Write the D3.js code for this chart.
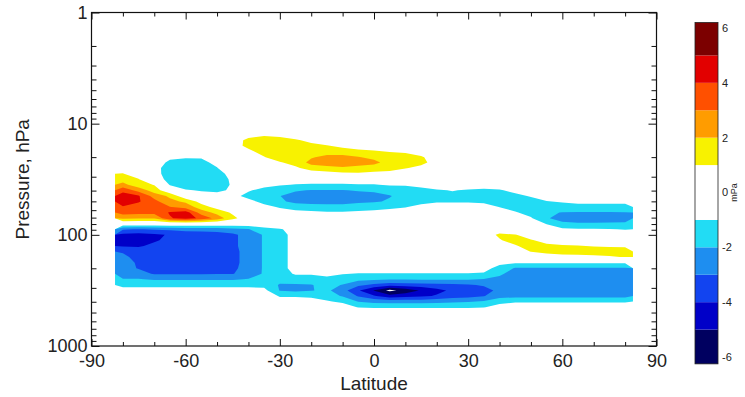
<!DOCTYPE html>
<html>
<head>
<meta charset="utf-8">
<script src="https://cdn.jsdelivr.net/npm/d3@7"></script>
<style>
  body { margin: 0; background: #fff; }
  svg text { font-family: "Liberation Sans", Arial, sans-serif; fill: #222; }
</style>
</head>
<body>
<div id="chart"></div>
<script>

// ---- data: ozone anomaly (mPa) on latitude x pressure grid ----

var latitudes = [-80, -75, -70, -65, -60, -55, -50, -45, -40, -35, -30, -25, -20, -15, -10, -5, 0,
                 5, 10, 15, 20, 25, 30, 35, 40, 45, 50, 55, 60, 65, 70, 75, 80];

var pressureLevels = [10, 11.2, 12.6, 14.1, 15.8, 17.8, 20, 22.4, 25.1, 28.2, 31.6, 35.5, 39.8, 44.7,
                      50.1, 56.2, 63.1, 70.8, 79.4, 89.1, 100, 112, 126, 141, 158, 178, 200, 224,
                      251, 282, 316, 355, 398, 447, 501, 562];

// one row per pressure level, one value per latitude
var anomaly = [
  [0,0,0,0,0,0,0,0,0,0,0, 0,0,0,0,0,0,0,0,0,0,0, 0,0,0,0,0,0,0,0,0,0,0],
  [0,0,0,0,0,0,0,0,0.3,0.4,0.3, 0,0,0,0,0,0,0,0,0,0,0, 0,0,0,0,0,0,0,0,0,0,0],
  [0,0,0,0,0,0,0,0.4,0.7,0.9,0.8, 0.6,0.3,0,0,0,0,0,0,0,0,0, 0,0,0,0,0,0,0,0,0,0,0],
  [0,0,0,0,0,0,0,0.6,1.2,1.4,1.3, 1.1,0.8,0.5,0.3,0,0,0,0,0,0,0, 0,0,0,0,0,0,0,0,0,0,0],
  [0,0,0,0,0,0,0,0.5,1.3,1.6,1.6, 1.5,1.2,1.05,0.8,0.6,0.5,0.4,0.3,0,0,0, 0,0,0,0,0,0,0,0,0,0,0],
  [0,0,0,-0.3,-0.4,-0.4,0,0,0.7,1.5,1.7, 1.7,1.5,1.5,1.4,1.2,1.1,0.95,0.85,0.6,0,0, 0,0,0,0,0,0,0,0,0,0,0],
  [0,0,0,-0.8,-0.9,-0.9,-0.4,0,0.3,0.95,1.5, 1.8,1.9,2.3,2.4,2.05,1.8,1.5,1.4,1.1,0.6,0, 0,0,0,0,0,0,0,0,0,0,0],
  [0,0,-0.5,-1.2,-1.4,-1.3,-0.7,0,0,0.5,0.9, 1.4,2.3,2.6,2.7,2.4,2.2,1.7,1.5,1.2,0.7,0, 0,0,0,0,0,0,0,0,0,0,0],
  [0.4,0,-0.7,-1.4,-1.6,-1.5,-1.05,0,0,0.2,0.4, 0.8,1.5,1.6,1.8,1.7,1.6,1.4,1.05,0.8,0.5,0, 0,0,0,0,0,0,0,0,0,0,0],
  [1.05,0.4,-0.6,-1.5,-1.8,-1.6,-1.3,-0.7,0,0,0, 0.3,0.3,0.6,0.8,0.85,0.7,0.6,0.5,0.4,0,0, 0,0,0,0,0,0,0,0,0,0,0],
  [1.6,1.05,-0.2,-1.5,-1.9,-1.6,-1.4,-0.85,0,-0.3,-0.4, -0.5,-0.6,-0.6,-0.6,-0.5,-0.5,-0.4,-0.4,0,0,0, 0,0,0,0,0,0,0,0,0,0,0],
  [2.3,1.4,0.95,-1.1,-1.6,-1.5,-1.4,-0.9,-0.5,-0.7,-0.9, -1.05,-1.1,-1.1,-1.1,-1.05,-1.05,-0.9,-0.9,-0.6,-0.5,-0.4, -0.5,-0.5,-0.4,0,0,0,0,0,0,0,0],
  [3.7,2.6,1.5,0.2,-0.9,-1.1,-1.2,-0.85,-0.9,-1.3,-1.6, -1.9,-2.05,-2.05,-2.05,-1.9,-1.8,-1.6,-1.5,-1.4,-1.1,-0.95, -1.1,-1.2,-1.1,-0.7,-0.4,0,0,0,0,0,0],
  [4.5,4.1,2.6,1.8,0.2,-0.5,-0.6,-0.7,-1.3,-1.5,-1.98, -2.4,-2.5,-2.6,-2.6,-2.5,-2.4,-2.05,-1.7,-1.5,-1.4,-1.3, -1.4,-1.5,-1.5,-1.3,-0.9,-0.5,-0.4,-0.3,-0.3,-0.3,-0.3],
  [4.6,4.1,3.3,2.3,1.8,0.6,-0.2,-0.2,-0.7,-1.3,-1.8, -2.3,-2.4,-2.4,-2.4,-2.2,-2.1,-1.9,-1.6,-1.3,-1.1,-1.1, -1.1,-1.2,-1.4,-1.5,-1.4,-1.05,-0.9,-0.8,-0.8,-0.8,-0.8],
  [3.9,3.6,3.5,3.05,2.6,1.5,0.6,0.2,-0.3,-0.7,-1.1, -1.4,-1.5,-1.6,-1.6,-1.5,-1.4,-1.2,-1.05,-0.7,-0.5,-0.5, -0.5,-0.6,-1.02,-1.4,-1.6,-1.5,-1.4,-1.3,-1.3,-1.3,-1.3],
  [3.4,3.3,3.3,4.1,4.5,2.5,1.7,0.8,0,-0.3,-0.5, -0.7,-0.8,-0.9,-0.9,-0.8,-0.7,-0.6,-0.5,-0.3,0,0, 0,0,-0.5,-0.9,-1.4,-1.8,-2.05,-2.1,-2.1,-2.1,-2.05],
  [2.2,2.1,2.1,3.9,4.4,3.8,2.6,1.3,0.3,0,-0.1, -0.2,-0.2,-0.3,-0.3,-0.2,-0.2,-0.1,0,0,0,0, 0,0,0,-0.4,-0.9,-1.9,-2.4,-2.5,-2.5,-2.4,-2.3],
  [0,0,-0.1,0,0,0,-0.1,-0.2,-0.3,-0.2,-0.1, 0,0,0,0,0,0,0,0,0,0,0, 0,0,0,0,-0.4,-1.05,-1.8,-1.9,-1.9,-1.9,-1.9],
  [-2.9,-3.05,-2.9,-2.8,-2.6,-2.6,-2.5,-2.3,-2.05,-1.4,-1.1, -0.6,-0.3,0,0,0,0,0,0,0,0,0, 0,0,0.3,0.4,0,-0.5,-0.8,-0.9,-0.9,-0.95,-1.05],
  [-4.3,-4.4,-4.2,-3.9,-3.7,-3.6,-3.5,-3.2,-2.6,-1.9,-1.3, -0.7,-0.4,-0.2,0,0,0,0,0,0,0,0, 0,0.4,1.2,1.05,0.5,0,-0.3,-0.3,-0.3,-0.4,-0.4],
  [-4.4,-4.4,-4.1,-3.8,-3.6,-3.5,-3.4,-3.2,-2.6,-1.9,-1.3, -0.7,-0.4,-0.2,0,0,0,0,0,0,0,0, 0,0,0.9,1.5,1.1,0.6,0.5,0.5,0.4,0.3,0.3],
  [-4.1,-4.1,-3.8,-3.6,-3.6,-3.5,-3.4,-3.2,-2.6,-1.9,-1.3, -0.7,-0.4,-0.2,0,0,0,0,0,0,0,0, 0,0,0.3,0.85,1.6,1.25,1.1,1.05,0.95,0.9,0.85],
  [-3.1,-3.6,-3.6,-3.6,-3.6,-3.6,-3.5,-3.3,-2.6,-1.9,-1.3, -0.7,-0.4,-0.2,0,0,0,0,0,0,0,0, 0,0,0,0.3,1.05,1.3,1.5,1.5,1.5,1.5,1.5],
  [-2.8,-3.3,-3.5,-3.6,-3.7,-3.7,-3.5,-3.3,-2.6,-1.9,-1.3, -0.7,-0.4,-0.2,-0.1,0,0,0,0,0,0,0, 0,-0.2,-0.3,-0.2,0.4,0.5,0.6,0.7,0.8,0.9,1.05],
  [-2.7,-3.1,-3.5,-3.5,-3.6,-3.6,-3.5,-3.3,-2.6,-1.9,-1.3, -0.7,-0.4,-0.2,-0.2,-0.2,-0.2,-0.2,-0.2,-0.2,-0.2,-0.2, -0.2,-0.4,-0.8,-0.9,-0.9,-0.9,-0.9,-0.9,-0.9,-0.9,-0.9],
  [-2.7,-3.05,-3.4,-3.4,-3.4,-3.4,-3.3,-3.2,-2.6,-1.9,-1.3, -0.7,-0.5,-0.4,-0.5,-0.5,-0.5,-0.5,-0.5,-0.5,-0.5,-0.5, -0.5,-0.7,-1.3,-2.1,-2.1,-2.1,-2.1,-2.1,-2.1,-2.1,-2.1],
  [-2.5,-2.6,-3.1,-3.1,-3.1,-3.1,-3.05,-3.05,-2.5,-1.9,-1.4, -0.9,-0.9,-0.8,-0.95,-1.05,-1.05,-1.05,-1.05,-1.05,-1.05,-1.05, -1.05,-1.1,-1.8,-2.5,-2.6,-2.6,-2.6,-2.6,-2.6,-2.6,-2.6],
  [-1.95,-1.95,-2.1,-2.1,-2.1,-2.1,-2.1,-2.1,-1.95,-1.7,-1.6, -1.5,-1.5,-1.2,-1.5,-1.7,-1.8,-1.9,-1.9,-1.9,-1.9,-1.9, -1.9,-2.05,-2.3,-2.6,-2.7,-2.7,-2.7,-2.7,-2.7,-2.7,-2.7],
  [-1.3,-1.3,-1.3,-1.3,-1.3,-1.3,-1.3,-1.3,-1.3,-1.3,-2.1, -2.1,-2.05,-1.7,-2.05,-2.8,-3.2,-3.6,-3.5,-3.4,-3.3,-3.2, -3.1,-2.9,-2.7,-2.6,-2.7,-2.7,-2.7,-2.7,-2.7,-2.7,-2.7],
  [-0.6,-0.6,-0.6,-0.6,-0.6,-0.6,-0.6,-0.6,-0.6,-0.7,-2.05, -2.2,-2.05,-1.8,-2.6,-3.9,-5.05,-6.3,-5.6,-4.9,-4.3,-3.8, -3.6,-3.3,-2.8,-2.6,-2.6,-2.6,-2.6,-2.6,-2.6,-2.6,-2.6],
  [-0.2,-0.2,-0.2,-0.2,-0.2,-0.2,-0.2,-0.2,-0.2,-0.3,-1.1, -1.1,-1.2,-1.5,-2.1,-3.1,-3.9,-4.6,-4.4,-4.2,-3.9,-3.5, -3.3,-3.05,-2.4,-2.3,-2.3,-2.3,-2.3,-2.3,-2.3,-2.3,-2.3],
  [0,0,0,0,0,0,0,0,0,0,-0.5, -0.5,-0.6,-0.9,-1.2,-2.05,-2.3,-2.4,-2.4,-2.4,-2.3,-2.2, -2.1,-1.9,-1.3,-1.1,-1.1,-1.1,-1.1,-1.1,-1.1,-1.1,-1.1],
  [0,0,0,0,0,0,0,0,0,0,-0.2, -0.2,-0.2,-0.3,-0.5,-1.05,-1.1,-1.1,-1.1,-1.1,-1.1,-1.1, -1.1,-1.05,-0.6,-0.5,-0.5,-0.5,-0.5,-0.5,-0.5,-0.5,-0.5],
  [0,0,0,0,0,0,0,0,0,0,0, 0,0,0,-0.1,-0.4,-0.4,-0.4,-0.4,-0.4,-0.4,-0.4, -0.4,-0.4,-0.2,-0.2,-0.2,-0.2,-0.2,-0.2,-0.2,-0.2,-0.2],
  [0,0,0,0,0,0,0,0,0,0,0, 0,0,0,0,0,0,0,0,0,0,0, 0,0,0,0,0,0,0,0,0,0,0]
];

// contour levels and colours
var positiveLevels = [1, 2, 3, 4, 5];
var positiveColors = ["#f8f200", "#ff9c00", "#ff5000", "#e20000", "#7c0000"];
var negativeLevels = [-1, -2, -3, -4, -5, -6];
var negativeColors = ["#22dcf4", "#1e8ef0", "#1244f0", "#0000c8", "#000060", "#ffffff"];

// axes ticks
var latMajorTicks = [-90, -60, -30, 0, 30, 60, 90];
var latMinorTicks = [-80, -70, -50, -40, -20, -10, 10, 20, 40, 50, 70, 80];
var pressureMajorTicks = [1, 10, 100, 1000];
var pressureMinorTicks = [2, 3, 4, 5, 6, 7, 8, 9, 20, 30, 40, 50, 60, 70, 80, 90,
                          200, 300, 400, 500, 600, 700, 800, 900];

// colour bar
var colorbarEdges = [-6.25, -5, -4, -3, -2, -1, 1, 2, 3, 4, 5, 6.2];
var colorbarColors = ["#000060", "#0000c8", "#1244f0", "#1e8ef0", "#22dcf4", "#ffffff",
                      "#f8f200", "#ff9c00", "#ff5000", "#e20000", "#7c0000"];
var colorbarTicks = [-6, -4, -2, 0, 2, 4, 6];


// ---- drawing area ----

var width = 745, height = 397;
var plot = {left: 91.5, right: 656.5, top: 12.5, bottom: 346};

var svg = d3.select("#chart")
    .append("svg")
    .attr("width", width)
    .attr("height", height);

var x = d3.scaleLinear().domain([-90, 90]).range([plot.left, plot.right]);
var y = d3.scaleLog().domain([1, 1000]).range([plot.top, plot.bottom]);

var nx = latitudes.length, ny = pressureLevels.length;
anomaly.forEach(function(row, i) {
  if (row.length !== nx) throw new Error("row " + i + " has " + row.length + " values");
});
if (anomaly.length !== ny) throw new Error("rows: " + anomaly.length);

// grid index -> pixel (grid values sit at i + 0.5 in contour space)
var gx = d3.scaleLinear()
    .domain(latitudes.map(function(d, i) { return i + 0.5; }))
    .range(latitudes.map(function(d) { return x(d); }));
var gy = d3.scaleLinear()
    .domain(pressureLevels.map(function(d, i) { return i + 0.5; }))
    .range(pressureLevels.map(function(d) { return y(d); }));

var gridPath = d3.geoPath(d3.geoTransform({
  point: function(px, py) { this.stream.point(gx(px), gy(py)); }
}));

var flat = [].concat.apply([], anomaly);

// filled contours
var field = svg.append("g");

var posContours = d3.contours().size([nx, ny]).thresholds(positiveLevels)(flat);
field.selectAll("path.pos")
    .data(posContours)
    .enter().append("path")
    .attr("class", "pos")
    .attr("d", gridPath)
    .attr("fill", function(d, i) { return positiveColors[i]; });

var negContours = d3.contours().size([nx, ny])
    .thresholds(negativeLevels.map(function(v) { return -v; }))(flat.map(function(v) { return -v; }));
field.selectAll("path.neg")
    .data(negContours)
    .enter().append("path")
    .attr("class", "neg")
    .attr("d", gridPath)
    .attr("fill", function(d, i) { return negativeColors[i]; });


// ---- axes ----

function styleAxis(g, fontSize) {
  g.select(".domain").remove();
  g.selectAll("line").attr("stroke", "#111");
  g.selectAll("text").style("font-size", fontSize + "px").attr("fill", "#222");
}

var tickFmt = function(d) { return String(d); };

svg.append("g").attr("transform", "translate(0," + plot.bottom + ")")
  .call(d3.axisBottom(x).tickValues(latMajorTicks).tickSize(-7).tickSizeOuter(0).tickPadding(8).tickFormat(tickFmt))
  .call(styleAxis, 18);
svg.append("g").attr("transform", "translate(0," + plot.bottom + ")")
  .call(d3.axisBottom(x).tickValues(latMinorTicks).tickSize(-4).tickSizeOuter(0).tickFormat(""))
  .call(styleAxis, 18);
svg.append("g").attr("transform", "translate(0," + plot.top + ")")
  .call(d3.axisTop(x).tickValues(latMajorTicks).tickSize(-7).tickSizeOuter(0).tickFormat(""))
  .call(styleAxis, 18);
svg.append("g").attr("transform", "translate(0," + plot.top + ")")
  .call(d3.axisTop(x).tickValues(latMinorTicks).tickSize(-4).tickSizeOuter(0).tickFormat(""))
  .call(styleAxis, 18);

svg.append("g").attr("transform", "translate(" + plot.left + ",0)")
  .call(d3.axisLeft(y).tickValues(pressureMajorTicks).tickSize(-8).tickSizeOuter(0).tickPadding(4).tickFormat(tickFmt))
  .call(styleAxis, 18);
svg.append("g").attr("transform", "translate(" + plot.left + ",0)")
  .call(d3.axisLeft(y).tickValues(pressureMinorTicks).tickSize(-5).tickSizeOuter(0).tickFormat(""))
  .call(styleAxis, 18);
svg.append("g").attr("transform", "translate(" + plot.right + ",0)")
  .call(d3.axisRight(y).tickValues(pressureMajorTicks).tickSize(-8).tickSizeOuter(0).tickFormat(""))
  .call(styleAxis, 18);
svg.append("g").attr("transform", "translate(" + plot.right + ",0)")
  .call(d3.axisRight(y).tickValues(pressureMinorTicks).tickSize(-5).tickSizeOuter(0).tickFormat(""))
  .call(styleAxis, 18);

// frame
svg.append("rect")
    .attr("x", plot.left).attr("y", plot.top)
    .attr("width", plot.right - plot.left).attr("height", plot.bottom - plot.top)
    .attr("fill", "none").attr("stroke", "#111").attr("stroke-width", 1.2);

// axis titles
svg.append("text")
    .attr("x", (plot.left + plot.right) / 2)
    .attr("y", 390)
    .attr("text-anchor", "middle")
    .style("font-size", "19px")
    .text("Latitude");

svg.append("text")
    .attr("transform", "translate(29," + ((plot.top + plot.bottom) / 2) + ") rotate(-90)")
    .attr("text-anchor", "middle")
    .style("font-size", "19px")
    .text("Pressure, hPa");


// ---- colour bar ----

var cb = {x: 695, width: 23};
var cbScale = d3.scaleLinear().domain([6, -6]).range([28, 357]);

var bar = svg.append("g");
bar.selectAll("rect")
    .data(colorbarColors)
    .enter().append("rect")
    .attr("x", cb.x)
    .attr("width", cb.width)
    .attr("y", function(d, i) { return cbScale(colorbarEdges[i + 1]); })
    .attr("height", function(d, i) { return cbScale(colorbarEdges[i]) - cbScale(colorbarEdges[i + 1]); })
    .attr("fill", function(d) { return d; });

bar.append("rect")
    .attr("x", cb.x).attr("width", cb.width)
    .attr("y", cbScale(colorbarEdges[colorbarEdges.length - 1]))
    .attr("height", cbScale(colorbarEdges[0]) - cbScale(colorbarEdges[colorbarEdges.length - 1]))
    .attr("fill", "none").attr("stroke", "#222").attr("stroke-width", 0.8);

bar.selectAll("text.tick")
    .data(colorbarTicks)
    .enter().append("text")
    .attr("class", "tick")
    .attr("x", cb.x + cb.width + 4)
    .attr("y", function(d) { return cbScale(d); })
    .attr("dy", "0.35em")
    .style("font-size", "11px")
    .text(function(d) { return String(d); });

bar.append("text")
    .attr("transform", "translate(737," + cbScale(0) + ") rotate(-90)")
    .attr("text-anchor", "middle")
    .style("font-size", "9px")
    .text("mPa");

</script>
</body>
</html>
